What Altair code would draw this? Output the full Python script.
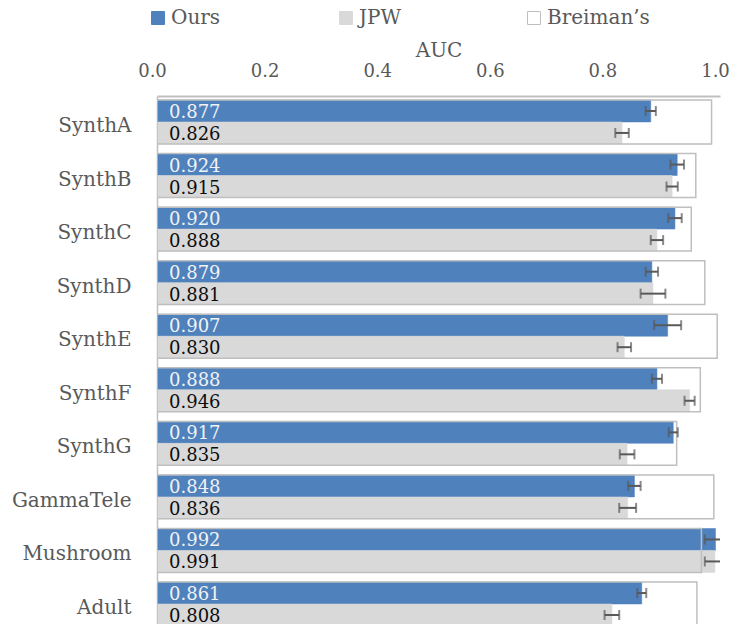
import altair as alt
import pandas as pd

datasets = ["SynthA", "SynthB", "SynthC", "SynthD", "SynthE", "SynthF", "SynthG",
            "GammaTele", "Mushroom", "Adult"]
ours = [0.877, 0.924, 0.920, 0.879, 0.907, 0.888, 0.917, 0.848, 0.992, 0.861]
ours_err = [0.009, 0.012, 0.012, 0.011, 0.024, 0.009, 0.008, 0.011, 0.019, 0.008]
jpw = [0.826, 0.915, 0.888, 0.881, 0.830, 0.946, 0.835, 0.836, 0.991, 0.808]
jpw_err = [0.012, 0.010, 0.011, 0.022, 0.012, 0.009, 0.013, 0.015, 0.018, 0.013]
breiman = [0.985, 0.957, 0.949, 0.973, 0.995, 0.965, 0.923, 0.989, 0.967, 0.959]

series_all = ["Ours", "JPW", "Breiman\u2019s"]
x_ticks = [0.0, 0.2, 0.4, 0.6, 0.8, 1.0]

rows = []
for i, d in enumerate(datasets):
    rows.append({"dataset": d, "series": "Ours", "value": ours[i],
                 "lo": ours[i] - ours_err[i], "hi": ours[i] + ours_err[i]})
    rows.append({"dataset": d, "series": "JPW", "value": jpw[i],
                 "lo": jpw[i] - jpw_err[i], "hi": jpw[i] + jpw_err[i]})
df = pd.DataFrame(rows)
dfb = pd.DataFrame({"dataset": datasets, "breiman": breiman})

FONT = "DejaVu Serif"
GRAY_TXT = "#595959"
AXIS_GRAY = "#BFBFBF"

xscale = alt.Scale(domain=[0, 1], nice=False, zero=True)
yscale = alt.Scale(range=[0, 534], paddingInner=0.18, paddingOuter=0.075)

x_axis = alt.Axis(orient="top", values=x_ticks, format=".1f", ticks=False, tickSize=0,
                  grid=False, domainColor=AXIS_GRAY, domainWidth=2, labelFlush=False,
                  labelFont=FONT, labelFontSize=18, labelColor=GRAY_TXT,
                  labelBaseline="alphabetic", labelPadding=20, labelOffset=-5,
                  title="AUC", titleFont=FONT, titleFontSize=20, titleFontWeight="normal",
                  titleColor=GRAY_TXT, titleBaseline="alphabetic", titleY=-40)
y_axis = alt.Axis(title=None, ticks=False, tickSize=0, grid=False,
                  domainColor=AXIS_GRAY, domainWidth=1.5,
                  labelFont=FONT, labelFontSize=20, labelColor=GRAY_TXT,
                  labelPadding=26, labelOffset=4)

Y = alt.Y("dataset:N", sort=datasets, scale=yscale, axis=y_axis)
YOFF = alt.YOffset("series:N", sort=["Ours", "JPW"],
                   scale=alt.Scale(paddingInner=0, paddingOuter=0))

legend = alt.Legend(orient="none", direction="horizontal", title=None,
                    legendX=-9, legendY=-88, columns=3, gridAlign="all",
                    columnPadding=62, symbolType="square", symbolSize=169,
                    symbolStrokeWidth=1, labelOffset=3,
                    labelFont=FONT, labelFontSize=20, labelColor=GRAY_TXT, padding=0)

base = alt.Chart(df)

bars = base.mark_bar(clip=True, strokeWidth=0.5).encode(
    x=alt.X("value:Q", scale=xscale, axis=x_axis),
    y=Y,
    yOffset=YOFF,
    fill=alt.Fill("series:N", scale=alt.Scale(domain=series_all,
                  range=["#4F81BD", "#D9D9D9", "#FFFFFF"]), legend=legend),
    stroke=alt.Stroke("series:N", scale=alt.Scale(domain=series_all,
                      range=["#4F81BD", "#D9D9D9", AXIS_GRAY]), legend=legend),
)

breiman_bars = alt.Chart(dfb).mark_bar(clip=True, fill="transparent", stroke=AXIS_GRAY,
                                       strokeWidth=1.5).encode(
    x=alt.X("breiman:Q", scale=xscale),
    y=Y,
)

labels = base.mark_text(align="left", baseline="middle", dx=12, dy=2,
                        font=FONT, fontSize=18).encode(
    x=alt.datum(0),
    y=Y,
    yOffset=YOFF,
    text=alt.Text("value:Q", format=".3f"),
    color=alt.condition(alt.datum.series == "Ours", alt.value("#F2F2F2"),
                        alt.value("#0D0D0D")),
)

err_rule = base.mark_rule(clip=True, color=GRAY_TXT, strokeWidth=2).encode(
    x="lo:Q", x2="hi:Q", y=Y, yOffset=YOFF)
cap_lo = base.mark_tick(clip=True, color=GRAY_TXT, orient="vertical", size=10,
                        thickness=2).encode(x="lo:Q", y=Y, yOffset=YOFF)
cap_hi = base.mark_tick(clip=True, color=GRAY_TXT, orient="vertical", size=10,
                        thickness=2).encode(x="hi:Q", y=Y, yOffset=YOFF)

chart = alt.layer(bars, breiman_bars, labels, err_rule, cap_lo, cap_hi).properties(
    width=563, height=528,
    autosize=alt.AutoSizeParams(type="none"),
    padding={"left": 149, "top": 88, "right": 9, "bottom": 0},
).configure_view(stroke=None)

chart.save("out.html", embed_options={"renderer": "svg", "actions": False})
